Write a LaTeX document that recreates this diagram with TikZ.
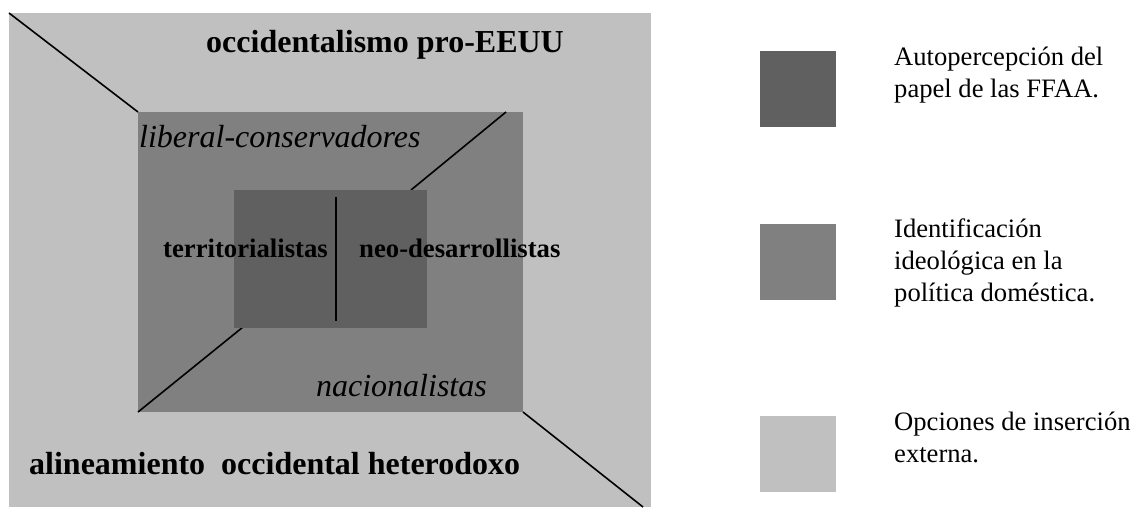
\documentclass[tikz,border=0pt]{standalone}
\usepackage{fontspec}
\setmainfont{Liberation Serif}
\definecolor{light}{HTML}{C0C0C0}
\definecolor{mid}{HTML}{808080}
\definecolor{dark}{HTML}{606060}
\begin{document}
\begin{tikzpicture}[x=1pt,y=-1pt,
  box/.style={inner sep=0pt,outer sep=0pt,anchor=north west},
  sep/.style={line width=1.6pt,black},
  big/.style={inner sep=0pt,font=\fontsize{32}{36}\selectfont\bfseries},
  bigit/.style={inner sep=0pt,font=\fontsize{32}{36}\selectfont\itshape},
  midb/.style={inner sep=0pt,font=\fontsize{26.7}{30}\selectfont\bfseries},
  leg/.style={inner sep=0pt,anchor=base west,font=\fontsize{26.6}{32}\selectfont}]
\useasboundingbox (0,0) rectangle (1135,507);
% outer
\node[box,fill=light,minimum width=642pt,minimum height=494pt] (outer) at (9,13) {};
\coordinate (brend) at (643,507);
% middle
\node[box,fill=mid,minimum width=385pt,minimum height=300pt] (mid) at (138,112) {};
\draw[sep] (outer.north west) -- (mid.north west);
\draw[sep] (mid.south east) -- (brend);
\coordinate (trstart) at (506,112);
\coordinate (trend) at (411,190);
\coordinate (blend) at (243,327);
\draw[sep] (trstart) -- (trend);
\draw[sep] (mid.south west) -- (blend);
% inner
\node[box,fill=dark,minimum width=193pt,minimum height=138pt] (inner) at (234,190) {};
\coordinate (vtop) at (336,197);
\coordinate (vbot) at (336,321);
\draw[sep] (vtop) -- (vbot);
% texts
\node[big,anchor=base west] (t1) at (206,52) {occidentalismo pro-EEUU};
\node[bigit,anchor=base west] (t2) at (139,147) {liberal-conservadores};
\node[midb,anchor=base west] (t3) at (163,257) {territorialistas};
\node[midb,anchor=base west] (t4) at (359,257) {neo-desarrollistas};
\node[bigit,anchor=base east] (t5) at (487,396) {nacionalistas};
\node[big,anchor=base west] (t6) at (29,474) {alineamiento\hspace{0.5em}occidental heterodoxo};
% legend
\node[box,fill=dark,minimum width=76pt,minimum height=76pt] (s1) at (760,51) {};
\node[box,fill=mid,minimum width=76pt,minimum height=76pt] (s2) at (760,224) {};
\node[box,fill=light,minimum width=76pt,minimum height=76pt] (s3) at (760,416) {};
\node[leg] (l1a) at (894,65) {Autopercepción del};
\node[leg] (l1b) at (894,97) {papel de las FFAA.};
\node[leg] (l2a) at (894,237) {Identificación};
\node[leg] (l2b) at (894,269) {ideológica en la};
\node[leg] (l2c) at (894,301) {política doméstica.};
\node[leg] (l3a) at (894,430) {Opciones de inserción};
\node[leg] (l3b) at (894,462) {externa.};
\end{tikzpicture}
\end{document}
